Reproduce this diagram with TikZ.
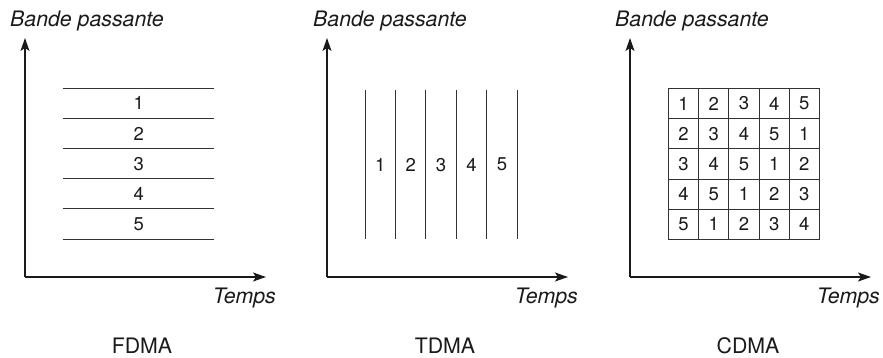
\documentclass[tikz,border=0pt]{standalone}
\usepackage{fontspec}
\setmainfont{TeX Gyre Heros}
\usetikzlibrary{arrows.meta, positioning}
\definecolor{inkDark}{HTML}{1A1A1A}
\definecolor{gridGray}{HTML}{333333}
\newcommand{\labelfont}{\fontsize{21.3pt}{25pt}\selectfont}
\newcommand{\slotfont}{\fontsize{18.5pt}{21pt}\selectfont}
\tikzset{
  axisArrow/.style={-{Stealth[length=13pt, width=9pt, inset=3pt]}, inkDark, line width=1.3pt},
  gridLine/.style={gridGray, line width=0.9pt},
  axisLabel/.style={font=\labelfont\itshape, inner sep=0pt, text=inkDark},
  schemeLabel/.style={font=\labelfont, inner sep=0pt, text=inkDark},
  bandBox/.style={minimum width=151pt, minimum height=30.2pt, inner sep=0pt,
                  font=\slotfont, text=inkDark},
  slotBox/.style={minimum width=30.2pt, minimum height=149pt, inner sep=0pt,
                  font=\slotfont, text=inkDark},
  codeCell/.style={draw=gridGray, line width=0.9pt, minimum size=30.2pt, inner sep=0pt,
                   font=\slotfont, text=inkDark},
}

\begin{document}
\begin{tikzpicture}[x=1pt, y=1pt]
  \useasboundingbox (0,0) rectangle (883,357);

  % FDMA
  \coordinate (oF) at (25,80);
  \coordinate (yF) at (25,319);
  \coordinate (xF) at (266,80);
  \draw[axisArrow] (oF) -- (yF);
  \draw[axisArrow] (oF) -- (xF);
  \node[axisLabel, anchor=base west] (bpF) at (10,330) {Bande passante};
  \node[axisLabel, anchor=base east] (tpF) at (276,54) {Temps};
  \node[schemeLabel, anchor=base] (nameF) at (142,4) {FDMA};
  \foreach \i in {1,...,5}
    \node[bandBox, anchor=north west] (band\i) at (63,{269-30.2*(\i-1)}) {\i};
  \foreach \i in {1,...,5}
    \draw[gridLine] (band\i.north west) -- (band\i.north east);
  \draw[gridLine] (band5.south west) -- (band5.south east);

  % TDMA
  \coordinate (oT) at (327,80);
  \coordinate (yT) at (327,319);
  \coordinate (xT) at (568,80);
  \draw[axisArrow] (oT) -- (yT);
  \draw[axisArrow] (oT) -- (xT);
  \node[axisLabel, anchor=base west] (bpT) at (313,330) {Bande passante};
  \node[axisLabel, anchor=base east] (tpT) at (578,54) {Temps};
  \node[schemeLabel, anchor=base] (nameT) at (445,4) {TDMA};
  \foreach \i in {1,...,5}
    \node[slotBox, anchor=north west] (slot\i) at ({365+30.4*(\i-1)},267) {\i};
  \foreach \i in {1,...,5}
    \draw[gridLine] (slot\i.north west) -- (slot\i.south west);
  \draw[gridLine] (slot5.north east) -- (slot5.south east);

  % CDMA
  \coordinate (oC) at (630,80);
  \coordinate (yC) at (630,319);
  \coordinate (xC) at (871,80);
  \draw[axisArrow] (oC) -- (yC);
  \draw[axisArrow] (oC) -- (xC);
  \node[axisLabel, anchor=base west] (bpC) at (615,330) {Bande passante};
  \node[axisLabel, anchor=base east] (tpC) at (880,54) {Temps};
  \node[schemeLabel, anchor=base] (nameC) at (748,4) {CDMA};
  \foreach \r in {0,...,4}
    \foreach \c in {0,...,4}{
      \pgfmathtruncatemacro{\code}{mod(\r+\c,5)+1}
      \node[codeCell, anchor=north west] (cell\r\c) at ({668+30.2*\c},{269-30.2*\r}) {\code};
    }
\end{tikzpicture}
\end{document}
